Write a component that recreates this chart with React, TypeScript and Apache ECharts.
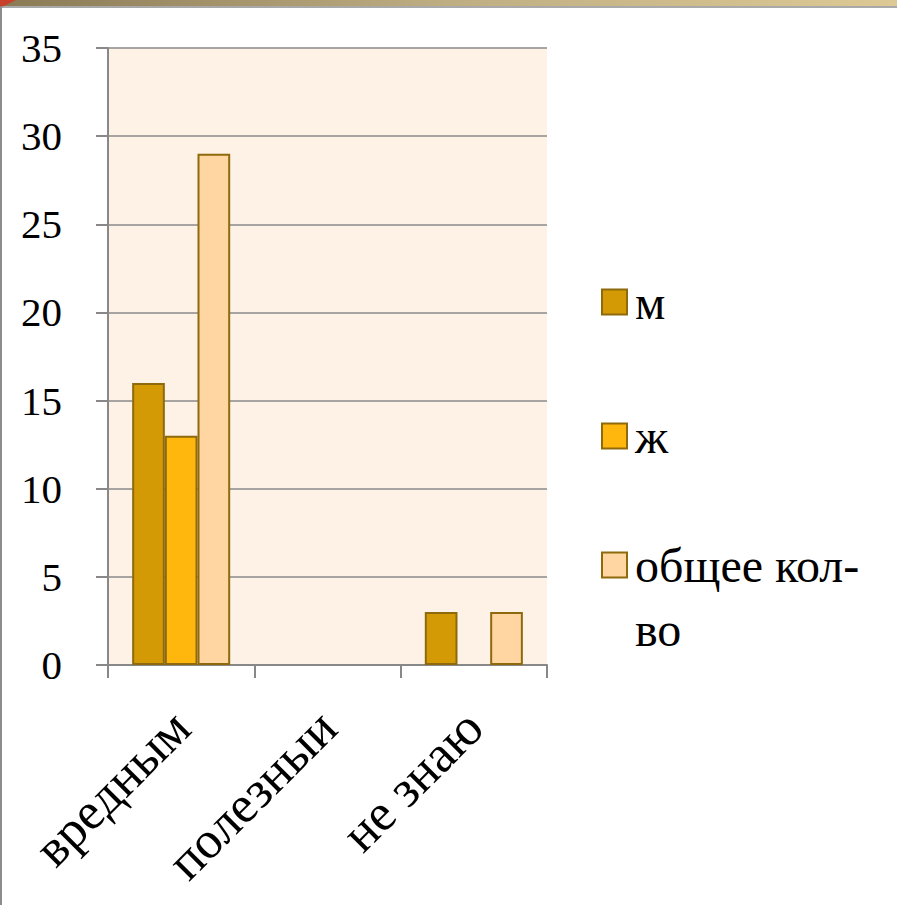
import React, { useEffect, useRef } from "react";
import * as echarts from "echarts";

const categories = ["вредным", "полезныи", "не знаю"];
const seriesNames = ["м", "ж", "общее кол-во"];
const menValues = [16, 0, 3];
const womenValues = [13, 0, 0];
const totalValues = [29, 0, 3];
const yTicks = { min: 0, max: 35, interval: 5 };

const colors = ["#D39A06", "#FFB70D", "#FFD5A2"];
const FONT = "Liberation Serif";

export default function App() {
  const ref = useRef<HTMLDivElement>(null);
  useEffect(() => {
    if (!ref.current) return;
    const chart = echarts.init(ref.current, null, { renderer: "svg" });
    const values = [menValues, womenValues, totalValues];
    const legendTops = [265, 399, 464];
    chart.setOption({
      animation: false,
      backgroundColor: "#ffffff",
      textStyle: { fontFamily: FONT },
      graphic: [
        {
          type: "rect",
          shape: { x: 0, y: 0, width: 897, height: 6 },
          style: {
            fill: new echarts.graphic.LinearGradient(0, 0, 1, 0, [
              { offset: 0, color: "#8A7A55" },
              { offset: 0.5, color: "#BFAE82" },
              { offset: 1, color: "#DCC995" },
            ]),
          },
        },
        {
          type: "polygon",
          shape: { points: [[0, 0], [16, 0], [0, 8]] },
          style: { fill: "#C8402A" },
        },
        {
          type: "line",
          shape: { x1: 0, y1: 7, x2: 897, y2: 7 },
          style: { stroke: "#8C8C8C", lineWidth: 1.5 },
        },
        {
          type: "line",
          shape: { x1: 1, y1: 7, x2: 1, y2: 905 },
          style: { stroke: "#8C8C8C", lineWidth: 2 },
        },
      ],
      grid: {
        left: 108,
        top: 48,
        right: 350,
        bottom: 240,
        show: true,
        backgroundColor: "#FEF1E5",
        borderWidth: 0,
      },
      legend: seriesNames.map((name, i) => ({
        orient: "vertical",
        left: 596,
        top: legendTops[i],
        itemWidth: 25,
        itemHeight: 25,
        icon: "rect",
        data: [name],
        formatter: (n: string) =>
          n === "общее кол-во" ? "{t|}\n{t|общее кол-}\n{t|во}" : "{t|" + n + "}",
        textStyle: {
          fontFamily: FONT,
          fontSize: 48,
          color: "#000",
          lineHeight: 64,
          rich: {
            t: { fontFamily: FONT, fontSize: 48, lineHeight: 64, color: "#000", padding: [0, 0, 0, 3] },
          },
        },
      })),
      xAxis: {
        type: "category",
        data: categories,
        axisLine: { show: true, lineStyle: { color: "#888888", width: 2 } },
        axisTick: { show: true, length: 13, lineStyle: { color: "#888888", width: 2 } },
        axisLabel: {
          rotate: 45,
          margin: 54,
          fontFamily: FONT,
          fontSize: 52,
          color: "#000",
        },
      },
      yAxis: {
        type: "value",
        min: yTicks.min,
        max: yTicks.max,
        interval: yTicks.interval,
        axisLine: { show: true, lineStyle: { color: "#888888", width: 2 } },
        axisTick: { show: true, length: 12, lineStyle: { color: "#888888", width: 2 } },
        splitLine: { show: true, lineStyle: { color: "#888888", width: 1.5 } },
        axisLabel: {
          margin: 46,
          fontFamily: FONT,
          fontSize: 41,
          color: "#000",
        },
      },
      series: seriesNames.map((name, i) => ({
        name,
        type: "bar",
        data: values[i].map((v) =>
          v === 0 ? { value: v, itemStyle: { borderWidth: 0 } } : v
        ),
        barGap: "0%",
        barCategoryGap: "33%",
        itemStyle: { color: colors[i], borderColor: "#8E6A0C", borderWidth: 2 },
      })),
    });
    return () => chart.dispose();
  }, []);
  return (
    <div
      ref={ref}
      style={{ position: "fixed", left: 0, top: 0, width: 897, height: 905 }}
    />
  );
}
